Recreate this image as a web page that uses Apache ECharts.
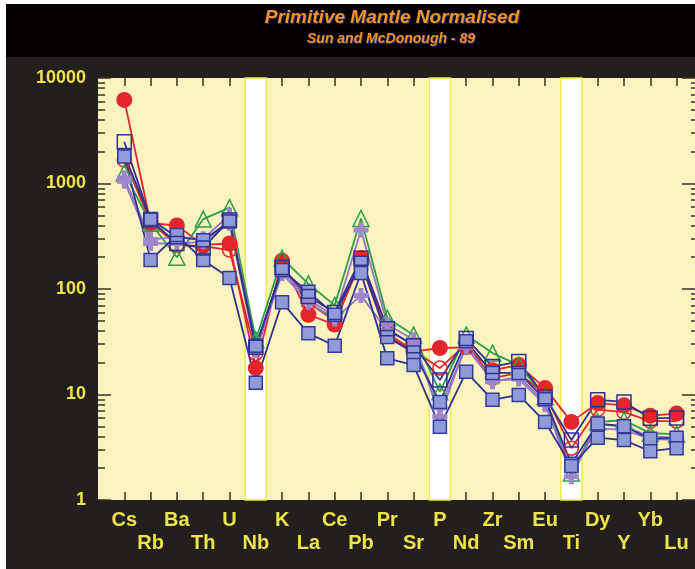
<!DOCTYPE html>
<html><head><meta charset="utf-8">
<script src="https://cdn.jsdelivr.net/npm/echarts@6/dist/echarts.min.js"></script>
<style>
html,body{margin:0;padding:0;background:#fff;width:695px;height:569px;overflow:hidden}
#bg{position:absolute;left:6px;top:4px;width:689px;height:565px;background:#231f1d}
#tb{position:absolute;left:6px;top:4px;width:689px;height:53px;background:#070101}
#chart{position:absolute;left:0;top:0;width:695px;height:569px}
</style></head><body>
<div id="bg"></div><div id="tb"></div><div id="chart"></div>
<script>
// ---- data ----
const elements = ['Cs','Rb','Ba','Th','U','Nb','K','La','Ce','Pb','Pr','Sr','P','Nd','Zr','Sm','Eu','Ti','Dy','Y','Yb','Lu'];
const bandElements = ['Nb','P','Ti'];
const yMajorTicks = [1,10,100,1000,10000];
const yMinorTicks = [2,3,4,5,6,7,8,9,20,30,40,50,60,70,80,90,200,300,400,500,600,700,800,900,2000,3000,4000,5000,6000,7000,8000,9000];

const redFilled  = [6200,420,400,262,270,17.8,185,57,46,196,36,25.5,27.6,28,17,19,11.5,5.5,8.3,7.9,6.3,6.6];
const redOpen    = [1670,430,260,255,234,24.5,170,74,50,180,38,26,17.8,30,14.3,16,10,3.1,7.2,6.8,5.6,5.6];
const greenTri   = [1260,420,200,460,590,33,195,112,70,467,53,36.6,10.6,36.6,24.7,19,9.5,1.8,5.5,5.7,4.3,4.2];
const purpleA    = [1130,295,310,300,500,28,150,80,55,362,46,33,6.2,30,13.2,14.8,8.5,1.66,5.2,5.0,4.0,3.9];
const purpleB    = [1050,270,270,280,420,26,140,75,52,87,40,30,7.5,28,13.5,14,8,1.9,4.8,4.6,3.8,3.7];
const openSquare = [2490,451,270,245,450,28,160,85,60,196,42,29,13.7,34,18.4,20.5,9.5,3.7,8.9,8.5,5.95,6.0];
const filledSqA  = [1860,460,310,290,437,29,151,94,57,177,35,25,8.5,32,16,16,9,2.2,5.3,5.0,3.8,3.9];
const filledSqB  = [1800,188,325,188,127,12.9,75,38,29,142,22,19,4.95,16.4,8.9,9.9,5.5,2.1,3.9,3.7,2.9,3.1];

const titleText = 'Primitive Mantle Normalised';
const subtitleText = 'Sun and McDonough - 89';

// ---- chart ----
const chart = echarts.init(document.getElementById('chart'), null, {renderer:'canvas'});
const labelYellow = '#ede34a';
const tickColor = '#3a3124';
const font = "'Liberation Sans', Arial, sans-serif";
const allIdx = elements.map((e,i)=>i);
const bandIdx = bandElements.map(b=>elements.indexOf(b));
const tickIdx = allIdx.filter(i=>bandIdx.indexOf(i)<0);
const pts = vals => vals.map((v,i)=>[i,v]);
const crossPath = 'path://M3,0H6V3H9V6H6V9H3V6H0V3H3Z';
const clear = 'rgba(0,0,0,0)';

function mk(name, vals, symbol, size, lineColor, fill, border, bw){
  return {name, type:'line', data:pts(vals), xAxisIndex:0, yAxisIndex:0, z:3,
    symbol, symbolSize:size, showAllSymbol:true,
    lineStyle:{color:lineColor, width:1.8},
    itemStyle:{color:fill, borderColor:border, borderWidth:bw}};
}
function txt(text, x, y, size, fill, z){
  return {type:'text', x, y, z, style:{text, fill,
    font:"italic bold "+size+"px 'Liberation Sans', Arial, sans-serif",
    align:'center', verticalAlign:'middle', textAlign:'center', textVerticalAlign:'middle'}};
}

const xCommon = {type:'value', min:-1, max:21.7, interval:1,
  axisLine:{show:false, onZero:false}, splitLine:{show:false}};
const yCommon = {type:'log', logBase:10, min:1, max:10000,
  axisLine:{show:false, onZero:false}, splitLine:{show:false}};

const option = {
  animation:false,
  backgroundColor:'transparent',
  graphic:[
    txt(titleText, 393, 19, 19, '#1d2a7c', 9),
    txt(titleText, 392, 18, 19, '#f7941d', 10),
    txt(subtitleText, 392, 40, 14, '#1d2a7c', 9),
    txt(subtitleText, 391, 39, 14, '#f7941d', 10)
  ],
  grid:{left:98, right:0, top:78, bottom:69, show:true, backgroundColor:'#faf3c0', borderWidth:0, containLabel:false, outerBoundsMode:'none'},
  xAxis:[
    Object.assign({}, xCommon, {position:'bottom',
      axisTick:{inside:true, length:8, lineStyle:{color:tickColor, width:1.5}, customValues:tickIdx},
      axisLabel:{customValues:allIdx, color:labelYellow, fontSize:20, fontWeight:'bold', fontFamily:font,
        lineHeight:23, margin:9,
        formatter:v=>{const i=Math.round(v); return i%2===0 ? elements[i] : '\n'+elements[i];}}}),
    Object.assign({}, xCommon, {position:'top',
      axisTick:{inside:true, length:8, lineStyle:{color:tickColor, width:1.5}, customValues:tickIdx},
      axisLabel:{show:false}})
  ],
  yAxis:[
    Object.assign({}, yCommon, {position:'left',
      axisTick:{inside:true, length:13, lineStyle:{color:tickColor, width:1.5}, customValues:yMajorTicks},
      axisLabel:{customValues:yMajorTicks, color:labelYellow, fontSize:18, fontWeight:'bold', fontFamily:font, margin:12,
        formatter:v=>String(Math.round(v))}}),
    Object.assign({}, yCommon, {position:'left',
      axisTick:{inside:true, length:7, lineStyle:{color:tickColor, width:1.5}, customValues:yMinorTicks},
      axisLabel:{show:false}}),
    Object.assign({}, yCommon, {position:'right',
      axisTick:{inside:true, length:13, lineStyle:{color:tickColor, width:1.5}, customValues:yMajorTicks},
      axisLabel:{show:false}}),
    Object.assign({}, yCommon, {position:'right',
      axisTick:{inside:true, length:4, lineStyle:{color:tickColor, width:1.5}, customValues:yMinorTicks},
      axisLabel:{show:false}})
  ],
  series:[
    {type:'line', data:[], xAxisIndex:0, yAxisIndex:0, z:1, silent:true,
      markArea:{silent:true, itemStyle:{color:'#ffffff', borderColor:'#f2ea44', borderWidth:1.5},
        data: bandIdx.map(i=>[{xAxis:i-0.4},{xAxis:i+0.4}])}},
    mk('Red filled', redFilled, 'circle', 16, '#e3262b', '#e3262b', '#e3262b', 0),
    mk('Red open', redOpen, 'circle', 14, '#e3262b', clear, '#e3262b', 1.5),
    mk('Green', greenTri, 'triangle', 16, '#2b9f48', clear, '#2b9f48', 1.5),
    mk('Purple A', purpleA, crossPath, 15, '#9274c6', '#9e86cc', '#9e86cc', 0),
    mk('Purple B', purpleB, crossPath, 15, '#9274c6', '#9e86cc', '#9e86cc', 0),
    mk('Filled sq A', filledSqA, 'rect', 13, '#2e3192', '#8f9bd7', '#343a9a', 1.5),
    mk('Filled sq B', filledSqB, 'rect', 13, '#2e3192', '#8f9bd7', '#343a9a', 1.5),
    mk('Open sq', openSquare, 'rect', 14, '#2e3192', clear, '#2e3192', 1.5)
  ]
};
chart.setOption(option);
</script>
</body></html>
